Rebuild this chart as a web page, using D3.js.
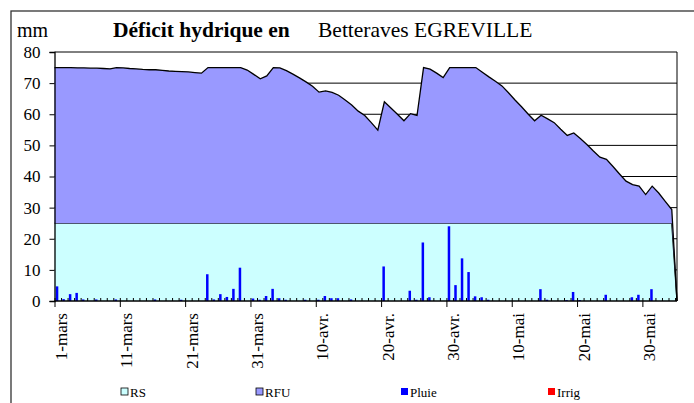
<!DOCTYPE html>
<html>
<head>
<meta charset="utf-8">
<script src="https://cdn.jsdelivr.net/npm/d3@7"></script>
<style>
body { margin: 0; background: #fff; }
text { font-family: "Liberation Serif", "Times New Roman", serif; fill: #000; }
</style>
</head>
<body>
<div id="chart"></div>
<script>
// values, one entry per day from 1-mars
var rs = [25,25,25,25,25,25,25,25,25,25, 25,25,25,25,25,25,25,25,25,25,
    25,25,25,25,25,25,25,25,25,25, 25,25,25,25,25,25,25,25,25,25,
    25,25,25,25,25,25,25,25,25,25, 25,25,25,25,25,25,25,25,25,25,
    25,25,25,25,25,25,25,25,25,25, 25,25,25,25,25,25,25,25,25,25,
    25,25,25,25,25,25,25,25,25,25, 25,25,25,25,25,0];
var rfu = [50,50,50,49.9,49.9,49.8,49.8,49.7,49.6,50, 49.9,49.7,49.6,49.4,49.3,49.3,49.1,48.9,48.8,48.7,
    48.6,48.4,48.2,50,50,50,50,50,50,49.2, 47.8,46.4,47.3,50,49.9,49,47.9,46.7,45.4,44,
    42.1,42.5,42,41.1,39.6,38,36,34.6,32.3,29.9, 39,37,35,32.9,35.2,34.6,50,49.5,48.2,46.8,
    50,50,50,50,50,48.5,47,45.6,44.1,41.9, 39.6,37.4,35.1,32.9,34.7,33.5,32.3,30.2,28.2,29,
    27.2,25.3,23.2,21.2,20.5,18.2,15.8,13.5,12.4,11.9, 9.2,11.9,9.7,7,4.4,0];
var pluie = [4.7,0.6,2.2,2.6,0.5,0,0.5,0,0,0.5, 0,0,0,0,0,0.5,0,0,0,0.4,
    0,0,0,8.6,0.5,2.2,1.3,3.9,10.7,0, 0.8,0.4,1.6,3.9,0.9,0.4,0,0,0.4,0,
    0.4,1.6,0.9,0.9,0,0.5,0,0,0,0, 11.1,0,0,0,3.3,0.4,18.8,1.2,0,0,
    24,5.1,13.7,9.3,1.5,1.2,0.4,0,0,0, 0,0,0,0,3.8,0.4,0,0,0.3,2.9,
    0.3,0,0,0,2,0,0,0,1.2,2, 0,3.8,0,0,0,0];
var irrig = [];
var tickDays = [0, 10, 20, 30, 40, 50, 60, 70, 80, 90];
var tickLabels = ["1-mars", "11-mars", "21-mars", "31-mars", "10-avr.", "20-avr.", "30-avr.", "10-mai", "20-mai", "30-mai"];
var legendItems = [
    { name: "RS", color: "#CCFFFF", x: 121 },
    { name: "RFU", color: "#9999FF", x: 256 },
    { name: "Pluie", color: "#0000FF", x: 401 },
    { name: "Irrig", color: "#FF0000", x: 548 }
];

var width = 694;
var height = 403;
var plot = { left: 54.5, right: 677, top: 52, bottom: 301 };

var svg = d3.select("#chart")
    .append("svg")
    .attr("width", width)
    .attr("height", height);

// chart area border
svg.append("rect")
    .attr("x", 11).attr("y", 11)
    .attr("width", 720).attr("height", 420)
    .style("fill", "#fff")
    .style("stroke", "#333")
    .style("stroke-width", 1.3);

var xScale = d3.scaleLinear()
    .domain([0, 95.3])
    .range([plot.left, plot.right]);
var yScale = d3.scaleLinear()
    .domain([0, 80])
    .range([plot.bottom, plot.top]);

// gridlines
svg.append("g")
    .selectAll("line")
    .data(d3.range(10, 90, 10))
    .enter()
    .append("line")
    .attr("x1", plot.left).attr("x2", plot.right)
    .attr("y1", function (d) { return yScale(d); })
    .attr("y2", function (d) { return yScale(d); })
    .style("stroke", "#000")
    .style("stroke-width", 1);

// stacked areas RS + RFU
var rows = rs.map(function (v, i) { return { day: i, rs: v, rfu: rfu[i] }; });
var stacked = d3.stack().keys(["rs", "rfu"])(rows);
var last = rows.length - 1;
function px(i) { return i < 0 ? plot.left : (i === last ? plot.right : xScale(i + 0.5)); }

var area = d3.area()
    .x(function (d) { return px(d.i); })
    .y0(function (d) { return yScale(d.v[0]); })
    .y1(function (d) { return yScale(d.v[1]); });
var topLine = d3.line()
    .x(function (d) { return px(d.i); })
    .y(function (d) { return yScale(d.v[1]); });
var fills = { rs: "#CCFFFF", rfu: "#9999FF" };

stacked.forEach(function (layer) {
    var pts = [{ i: -1, v: layer[0] }].concat(layer.map(function (d, i) { return { i: i, v: d }; }));
    svg.append("path")
        .datum(pts)
        .attr("d", area)
        .style("fill", fills[layer.key])
        .style("stroke", "none");
    svg.append("path")
        .datum(pts)
        .attr("d", topLine)
        .style("fill", "none")
        .style("stroke", "#000")
        .style("stroke-width", 1.3);
});

// rain and irrigation bars
svg.append("g")
    .selectAll("rect")
    .data(pluie.map(function (v, i) { return { day: i, v: v }; }).filter(function (d) { return d.v > 0; }))
    .enter()
    .append("rect")
    .attr("x", function (d) { return xScale(d.day) + 1.3; })
    .attr("width", 2.5)
    .attr("y", function (d) { return yScale(d.v); })
    .attr("height", function (d) { return yScale(0) - yScale(d.v); })
    .style("fill", "#0000FF");
svg.append("g")
    .selectAll("rect")
    .data(irrig.map(function (v, i) { return { day: i, v: v }; }).filter(function (d) { return d.v > 0; }))
    .enter()
    .append("rect")
    .attr("x", function (d) { return xScale(d.day) + 3.8; })
    .attr("width", 2.5)
    .attr("y", function (d) { return yScale(d.v); })
    .attr("height", function (d) { return yScale(0) - yScale(d.v); })
    .style("fill", "#FF0000");

// plot right border
svg.append("line")
    .attr("x1", plot.right).attr("x2", plot.right)
    .attr("y1", plot.top).attr("y2", plot.bottom)
    .style("stroke", "#000");

// y axis
var yAxis = svg.append("g")
    .attr("transform", "translate(" + plot.left + ",0)")
    .call(d3.axisLeft(yScale).tickValues(d3.range(0, 90, 10)).tickSize(5).tickPadding(9));
yAxis.select(".domain").style("stroke", "#000").style("stroke-width", 1.3);
yAxis.selectAll("text").style("font-size", "17px").style("font-family", "Liberation Serif");

// x axis: daily minor ticks inside, labelled major ticks outside
var xMinor = svg.append("g")
    .attr("transform", "translate(0," + plot.bottom + ")")
    .call(d3.axisBottom(xScale).tickValues(d3.range(0, 96)).tickSize(-3).tickFormat(""));
xMinor.select(".domain").remove();
var xAxis = svg.append("g")
    .attr("transform", "translate(0," + plot.bottom + ")")
    .call(d3.axisBottom(xScale).tickValues(tickDays).tickSize(6)
        .tickFormat(function (d, i) { return tickLabels[i]; }));
xAxis.select(".domain").attr("d", "M" + plot.left + ",0H" + plot.right).style("stroke", "#000").style("stroke-width", 1.5);
xAxis.selectAll("text")
    .style("font-size", "17px")
    .style("font-family", "Liberation Serif")
    .attr("text-anchor", "end")
    .attr("transform", "translate(6,12) rotate(-90)")
    .attr("x", 0).attr("y", 0).attr("dy", "0.35em");

// titles
svg.append("text").attr("x", 17).attr("y", 37).text("mm").style("font-size", "20px");
svg.append("text").attr("x", 113).attr("y", 37).text("Déficit hydrique en")
    .style("font-size", "21.5px").style("font-weight", "bold");
svg.append("text").attr("x", 318).attr("y", 37).text("Betteraves EGREVILLE").style("font-size", "21.5px");

// legend
var leg = svg.append("g").selectAll("g")
    .data(legendItems)
    .enter()
    .append("g");
leg.append("rect")
    .attr("x", function (d) { return d.x; })
    .attr("y", 388)
    .attr("width", 7).attr("height", 7)
    .style("fill", function (d) { return d.color; })
    .style("stroke", function (d, i) { return i < 2 ? "#000" : "none"; })
    .style("stroke-width", 0.8);
leg.append("text")
    .attr("x", function (d) { return d.x + 9; })
    .attr("y", 397)
    .text(function (d) { return d.name; })
    .style("font-size", "13px");
</script>
</body>
</html>
